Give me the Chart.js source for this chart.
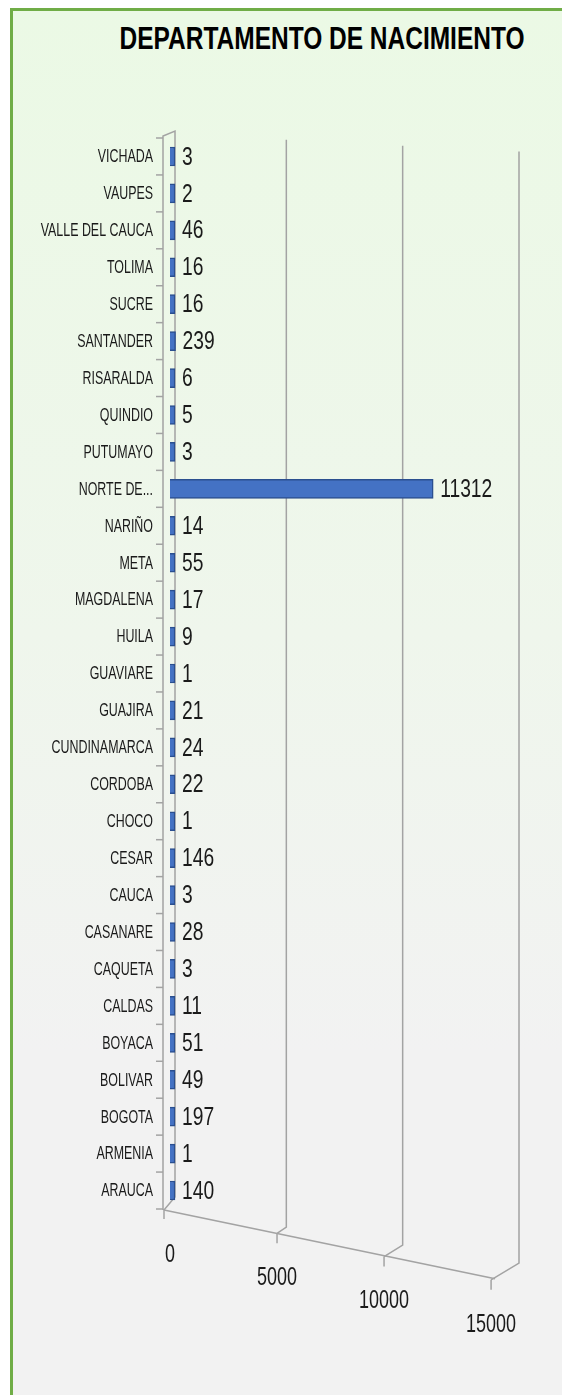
<!DOCTYPE html>
<html>
<head>
<meta charset="utf-8">
<script src="https://cdn.jsdelivr.net/npm/chart.js@4/dist/chart.umd.min.js"></script>
<style>
  html, body { margin: 0; padding: 0; background: #fff; }
  #frame {
    position: absolute; left: 10px; top: 8px; width: 552px; height: 1387px;
    border-left: 3px solid #70ad47; border-top: 3px solid #70ad47;
    background: linear-gradient(to bottom, #ebf9e5 0%, #eff6ec 45%, #f2f2f2 75%, #f2f2f2 100%);
  }
  #title {
    position: absolute; left: 22px; top: 24px; width: 600px; text-align: center; white-space: nowrap;
    font: bold 31px/30px "Liberation Sans", sans-serif; color: #000;
    transform: scaleX(0.79); transform-origin: 300px 0;
  }
  canvas { position: absolute; left: 0; top: 0; }
</style>
</head>
<body>
<div id="frame"></div>
<div id="title">DEPARTAMENTO DE NACIMIENTO</div>
<canvas id="myChart" width="562" height="1395"></canvas>
<script>
// categories top to bottom, as in the picture
let departamentos = ["VICHADA", "VAUPES", "VALLE DEL CAUCA", "TOLIMA", "SUCRE", "SANTANDER",
  "RISARALDA", "QUINDIO", "PUTUMAYO", "NORTE DE...", "NARIÑO", "META", "MAGDALENA", "HUILA",
  "GUAVIARE", "GUAJIRA", "CUNDINAMARCA", "CORDOBA", "CHOCO", "CESAR", "CAUCA", "CASANARE",
  "CAQUETA", "CALDAS", "BOYACA", "BOLIVAR", "BOGOTA", "ARMENIA", "ARAUCA"];
let nacimientos = [3, 2, 46, 16, 16, 239, 6, 5, 3, 11312, 14, 55, 17, 9, 1, 21, 24, 22, 1,
  146, 3, 28, 3, 11, 51, 49, 197, 1, 140];
let xTicks = [0, 5000, 10000, 15000];

const gray = "#a3a3a3";
const ink = "#1a1a1a";

// narrow text: Liberation Sans squeezed sideways (no condensed font here)
function narrowText(c, text, x, y, size, sx, align) {
  c.save();
  c.translate(x, y);
  c.scale(sx, 1);
  c.font = size + 'px "Liberation Sans", sans-serif';
  c.fillStyle = ink;
  c.textAlign = align;
  c.textBaseline = "middle";
  c.fillText(text, 0, 0);
  c.restore();
}

// fake 3d walls / floor, built from the scales
const wallsPlugin = {
  id: "walls",
  beforeDatasetsDraw(chart) {
    let c = chart.ctx;
    let xs = chart.scales.x;
    let ys = chart.scales.y;
    let area = chart.chartArea;
    let x0 = xs.getPixelForValue(0);
    let proj = x => ({ x: x0 + (x - x0) * 0.92, y: area.bottom + 1 + (x - x0) * 0.2 });
    c.save();
    c.strokeStyle = gray;
    c.lineWidth = 1.5;

    // value gridlines
    for (let v of xTicks) {
      if (v === 0) continue;
      let x = xs.getPixelForValue(v);
      let p = proj(x);
      c.beginPath();
      c.moveTo(x, area.top - 4 + (x - x0) * 0.05);
      c.lineTo(x, area.bottom + (x - x0) * 0.155);
      c.lineTo(p.x, p.y);
      c.stroke();
      c.beginPath();
      c.moveTo(p.x, p.y);
      c.lineTo(p.x, p.y + 10);
      c.stroke();
    }

    // floor
    let end = proj(xs.getPixelForValue(15000));
    c.beginPath();
    c.moveTo(x0 - 6, area.bottom + 1);
    c.lineTo(end.x + 4, end.y - 1);
    c.stroke();
    c.beginPath();
    c.moveTo(x0 - 6, area.bottom + 1);
    c.lineTo(x0 - 6, area.bottom + 10);
    c.stroke();

    // side wall
    c.beginPath();
    c.moveTo(x0 - 7, area.bottom + 1);
    c.lineTo(x0 - 7, area.top - 2);
    c.lineTo(x0 + 5, area.top - 7);
    c.lineTo(x0 + 5, area.bottom - 12);
    c.lineTo(x0 - 6, area.bottom + 1);
    c.stroke();

    // category ticks
    let step = ys.getPixelForValue(1) - ys.getPixelForValue(0);
    for (let i = 0; i <= departamentos.length; i++) {
      let y = ys.getPixelForValue(i) - step / 2;
      c.beginPath();
      c.moveTo(x0 - 14, y);
      c.lineTo(x0 - 7, y);
      c.stroke();
    }
    c.restore();

    // category labels
    departamentos.forEach((name, i) => {
      narrowText(c, name, x0 - 17, ys.getPixelForValue(i) + 1, 17.5, 0.71, "right");
    });

    // value axis labels
    for (let v of xTicks) {
      let p = proj(xs.getPixelForValue(v));
      narrowText(c, String(v), p.x, p.y + 45, 25, 0.72, "center");
    }
  },
  afterDatasetsDraw(chart) {
    let c = chart.ctx;
    let meta = chart.getDatasetMeta(0);
    meta.data.forEach((bar, i) => {
      narrowText(c, String(nacimientos[i]), bar.x + 7, bar.y + 1, 26, 0.74, "left");
    });
  }
};

let ctx = document.getElementById("myChart");
let myBarChart = new Chart(ctx, {
  type: "bar",
  data: {
    labels: departamentos,
    datasets: [
      {
        label: "Departamento de nacimiento",
        data: nacimientos,
        backgroundColor: "#4472c4",
        borderColor: "#2b4f8f",
        borderWidth: 1.5,
        barThickness: 19,
        minBarLength: 5
      }
    ]
  },
  options: {
    indexAxis: "y",
    responsive: false,
    animation: false,
    layout: { padding: { top: 138, right: 43, bottom: 186, left: 0 } },
    plugins: {
      legend: { display: false },
      tooltip: { enabled: false },
      title: { display: false }
    },
    scales: {
      x: {
        display: false,
        min: 0,
        max: 15000
      },
      y: {
        grid: { display: false },
        border: { display: false },
        ticks: { display: false, autoSkip: false },
        afterFit: scale => { scale.width = 170; }
      }
    }
  },
  plugins: [wallsPlugin]
});
</script>
</body>
</html>
